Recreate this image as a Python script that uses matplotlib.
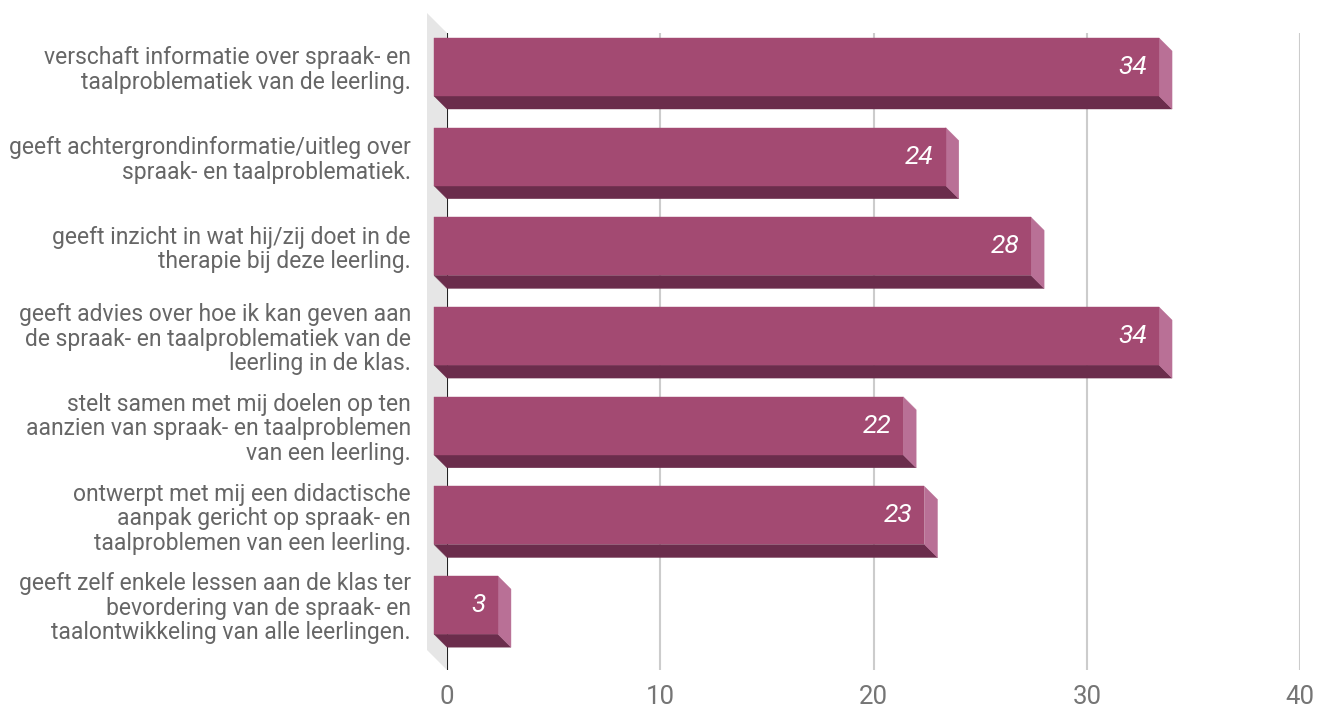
import matplotlib.pyplot as plt
from matplotlib.patches import Polygon

plt.rcParams['font.family'] = ['Roboto', 'DejaVu Sans']

labels = [
    'verschaft informatie over spraak- en\ntaalproblematiek van de leerling.',
    'geeft achtergrondinformatie/uitleg over\nspraak- en taalproblematiek.',
    'geeft inzicht in wat hij/zij doet in de\ntherapie bij deze leerling.',
    'geeft advies over hoe ik kan geven aan\nde spraak- en taalproblematiek van de\nleerling in de klas.',
    'stelt samen met mij doelen op ten\naanzien van spraak- en taalproblemen\nvan een leerling.',
    'ontwerpt met mij een didactische\naanpak gericht op spraak- en\ntaalproblemen van een leerling.',
    'geeft zelf enkele lessen aan de klas ter\nbevordering van de spraak- en\ntaalontwikkeling van alle leerlingen.',
]
values = [34, 24, 28, 34, 22, 23, 3]
xticks = [0, 10, 20, 30, 40]

front_col = '#a34a72'
bottom_col = '#6b2d4c'
side_col = '#b97096'

W, H = 1320, 709
fig = plt.figure(figsize=(W / 100, H / 100), dpi=100)
ax = fig.add_axes([447 / W, (H - 670) / H, 853 / W, 637 / H])
ax.set_xlim(0, 40)
ax.set_ylim(6.578, -0.524)

# pixel -> data conversions
px_x = 853 / 40
px_y = 637 / (6.578 + 0.524)
dx = 13 / px_x
dy = 13 / px_y
wx = 20 / px_x
wy = 20 / px_y
h = 58 / px_y

for s in ax.spines.values():
    s.set_visible(False)

# left wall
y0, y1 = -0.524, 6.578
ax.add_patch(Polygon([(-wx, y0 - wy), (0, y0), (0, y1), (-wx, y1 - wy)],
                     closed=True, fc='#e6e6e6', ec='none', clip_on=False, zorder=0))

for t in xticks[1:]:
    ax.axvline(t, color='#cccccc', lw=1.5, zorder=1)
ax.axvline(0, color='#222222', lw=1.5, zorder=1)

for i, v in enumerate(values):
    top, bot = i - h / 2, i + h / 2
    # bottom face
    ax.add_patch(Polygon([(-dx, bot - dy), (v - dx, bot - dy), (v, bot), (0, bot)],
                         closed=True, fc=bottom_col, ec=bottom_col, lw=0.3,
                         clip_on=False, zorder=2))
    # side face
    ax.add_patch(Polygon([(v - dx, top - dy), (v, top), (v, bot), (v - dx, bot - dy)],
                         closed=True, fc=side_col, ec=side_col, lw=0.3,
                         clip_on=False, zorder=2))
    # front face
    ax.add_patch(Polygon([(-dx, top - dy), (v - dx, top - dy), (v - dx, bot - dy), (-dx, bot - dy)],
                         closed=True, fc=front_col, ec=front_col, lw=0.3,
                         clip_on=False, zorder=3))
    ax.text(v - dx - 12 / px_x, i - dy, str(v), ha='right', va='center',
            color='white', fontsize=19, style='italic', zorder=4)

ax.set_yticks([i - dy for i in range(len(labels))], labels=labels)
ax.tick_params(axis='y', length=0, pad=26, labelsize=16.5, labelcolor='#666666')
for lab in ax.get_yticklabels():
    lab.set_linespacing(1.08)
ax.set_xticks(xticks)
ax.tick_params(axis='x', length=0, pad=11, labelsize=18.5, labelcolor='#757575')

fig.savefig('out.png', dpi=100)
